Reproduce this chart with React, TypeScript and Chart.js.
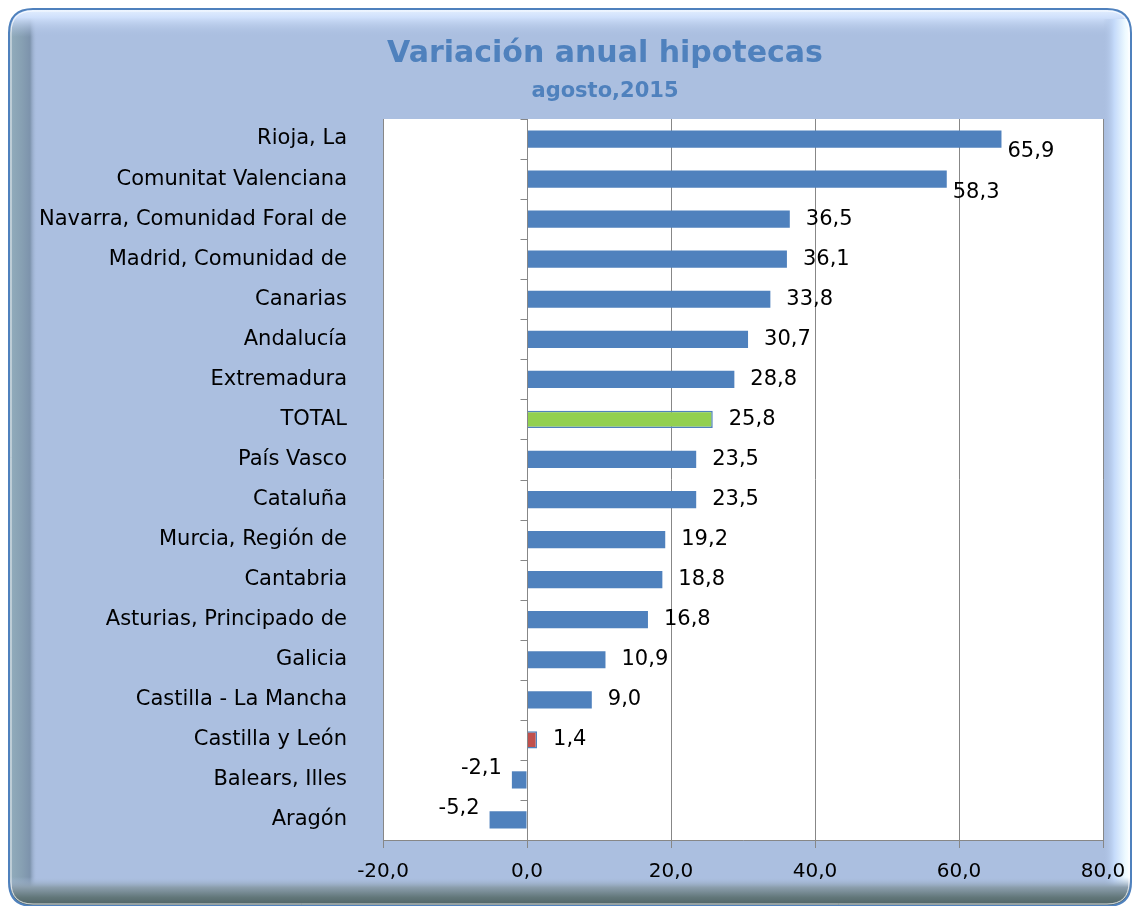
import React, { useEffect, useRef } from "react";
import { Chart, registerables } from "chart.js";

Chart.register(...registerables);

const categories = [
  "Rioja, La",
  "Comunitat Valenciana",
  "Navarra, Comunidad Foral de",
  "Madrid, Comunidad de",
  "Canarias",
  "Andalucía",
  "Extremadura",
  "TOTAL",
  "País Vasco",
  "Cataluña",
  "Murcia, Región de",
  "Cantabria",
  "Asturias, Principado de",
  "Galicia",
  "Castilla - La Mancha",
  "Castilla y León",
  "Balears, Illes",
  "Aragón",
];

const values = [65.9, 58.3, 36.5, 36.1, 33.8, 30.7, 28.8, 25.8, 23.5, 23.5, 19.2, 18.8, 16.8, 10.9, 9.0, 1.4, -2.1, -5.2];

const xTicks = [-20, 0, 20, 40, 60, 80];

const TITLE = "Variación anual hipotecas";
const SUBTITLE = "agosto,2015";

const BLUE = "#4F81BD";
const GREEN = "#92D050";
const RED = "#C0504D";
const FRAME = "#ABBFE0";
const GRID = "#878787";
const FONT = "'DejaVu Sans', sans-serif";

const fmt = (v: number) => v.toFixed(1).replace(".", ",");

function roundRect(ctx: CanvasRenderingContext2D, x: number, y: number, w: number, h: number, r: number) {
  ctx.beginPath();
  ctx.moveTo(x + r, y);
  ctx.lineTo(x + w - r, y);
  ctx.quadraticCurveTo(x + w, y, x + w, y + r);
  ctx.lineTo(x + w, y + h - r);
  ctx.quadraticCurveTo(x + w, y + h, x + w - r, y + h);
  ctx.lineTo(x + r, y + h);
  ctx.quadraticCurveTo(x, y + h, x, y + h - r);
  ctx.lineTo(x, y + r);
  ctx.quadraticCurveTo(x, y, x + r, y);
  ctx.closePath();
}

const framePlugin = {
  id: "frame",
  beforeDraw(chart: any) {
    const ctx: CanvasRenderingContext2D = chart.ctx;
    const W = chart.width;
    const H = chart.height;
    ctx.save();
    ctx.fillStyle = "#ffffff";
    ctx.fillRect(0, 0, W, H);
    const x0 = 9, y0 = 9, x1 = 1131, y1 = 906;
    roundRect(ctx, x0, y0, x1 - x0, y1 - y0, 24);
    ctx.fillStyle = FRAME;
    ctx.fill();
    ctx.save();
    roundRect(ctx, x0, y0, x1 - x0, y1 - y0, 24);
    ctx.clip();
    // left dark strip
    let g = ctx.createLinearGradient(x0, 0, x0 + 28, 0);
    g.addColorStop(0, "#93aebd");
    g.addColorStop(0.45, "#87a0b3");
    g.addColorStop(0.75, "#7d93ac");
    g.addColorStop(1, "rgba(171,191,224,0)");
    ctx.fillStyle = g;
    ctx.fillRect(x0, y0, 28, y1 - y0);
    // top highlight
    g = ctx.createLinearGradient(0, y0, 0, y0 + 28);
    g.addColorStop(0, "#e4f0ff");
    g.addColorStop(0.3, "#cfe0fb");
    g.addColorStop(1, "rgba(171,191,224,0)");
    ctx.fillStyle = g;
    ctx.fillRect(x0, y0, x1 - x0, 30);
    // right light strip
    g = ctx.createLinearGradient(x1 - 28, 0, x1, 0);
    g.addColorStop(0, "rgba(171,191,224,0)");
    g.addColorStop(0.4, "#c4dafa");
    g.addColorStop(0.8, "#eefaff");
    g.addColorStop(1, "#ffffff");
    ctx.fillStyle = g;
    ctx.fillRect(x1 - 28, y0 + 10, 28, y1 - y0 - 10);
    // bottom dark
    g = ctx.createLinearGradient(0, 877, 0, 906);
    g.addColorStop(0, "rgba(171,191,224,0)");
    g.addColorStop(0.35, "#8c9fae");
    g.addColorStop(0.7, "#62777a");
    g.addColorStop(1, "#4d6161");
    ctx.fillStyle = g;
    ctx.fillRect(x0, 877, x1 - x0, 30);
    ctx.restore();
    // inner white line
    roundRect(ctx, x0 + 2, y0 + 2, x1 - x0 - 4, y1 - y0 - 4, 22);
    ctx.strokeStyle = "rgba(255,255,255,0.8)";
    ctx.lineWidth = 1;
    ctx.stroke();
    // outer blue border
    roundRect(ctx, x0, y0, x1 - x0, y1 - y0, 24);
    ctx.strokeStyle = "#4F81BD";
    ctx.lineWidth = 2;
    ctx.stroke();
    // plot background
    const a = chart.chartArea;
    ctx.fillStyle = "#ffffff";
    ctx.fillRect(a.left, a.top, a.right - a.left, a.bottom - a.top);
    // title texts
    ctx.fillStyle = BLUE;
    ctx.textAlign = "center";
    ctx.textBaseline = "middle";
    ctx.font = `bold 30px ${FONT}`;
    ctx.fillText(TITLE, 605, 54);
    ctx.font = `bold 21px ${FONT}`;
    ctx.fillText(SUBTITLE, 605, 92);
    ctx.restore();
  },
};

const axisPlugin = {
  id: "zeroAxis",
  afterDatasetsDraw(chart: any) {
    const ctx: CanvasRenderingContext2D = chart.ctx;
    const a = chart.chartArea;
    const xs = chart.scales.x;
    const x0 = Math.round(xs.getPixelForValue(0)) + 0.5;
    ctx.save();
    ctx.strokeStyle = GRID;
    ctx.lineWidth = 1;
    ctx.beginPath();
    ctx.moveTo(x0, a.top);
    ctx.lineTo(x0, a.bottom);
    const n = categories.length;
    const h = (a.bottom - a.top) / n;
    for (let i = 0; i <= n; i++) {
      const y = Math.round(a.top + i * h) + 0.5;
      ctx.moveTo(x0 - 7, y);
      ctx.lineTo(x0, y);
    }
    ctx.stroke();
    // data labels
    const meta = chart.getDatasetMeta(0);
    ctx.fillStyle = "#000000";
    ctx.font = `21px ${FONT}`;
    ctx.textBaseline = "middle";
    meta.data.forEach((bar: any, i: number) => {
      const v = values[i];
      const t = fmt(v);
      if (v < 0) {
        ctx.textAlign = "right";
        ctx.fillText(t, bar.x - 10, bar.y - 11);
      } else if (v > 50) {
        ctx.textAlign = "left";
        ctx.fillText(t, bar.x + 6, bar.y + 13);
      } else {
        ctx.textAlign = "left";
        ctx.fillText(t, bar.x + 16, bar.y);
      }
    });
    ctx.restore();
  },
};

export default function App() {
  const ref = useRef<HTMLCanvasElement | null>(null);
  useEffect(() => {
    if (!ref.current) return;
    const bg = categories.map((c) => (c === "TOTAL" ? GREEN : c === "Castilla y León" ? RED : BLUE));
    const bw = categories.map((c) => (c === "TOTAL" || c === "Castilla y León" ? 1.5 : 0));
    const chart = new Chart(ref.current, {
      type: "bar",
      data: {
        labels: categories,
        datasets: [
          {
            data: values,
            backgroundColor: bg,
            borderColor: BLUE,
            borderWidth: bw,
            barPercentage: 0.43,
            categoryPercentage: 1,
          },
        ],
      },
      options: {
        indexAxis: "y",
        responsive: false,
        animation: false,
        layout: { padding: { left: 0, right: 32, top: 119, bottom: 26 } },
        plugins: {
          legend: { display: false },
          tooltip: { enabled: false },
          title: { display: false },
        },
        scales: {
          x: {
            min: -20,
            max: 80,
            afterBuildTicks: (s: any) => {
              s.ticks = xTicks.map((v) => ({ value: v }));
            },
            afterFit: (s: any) => {
              s.height = 40;
              s.paddingLeft = 0;
              s.paddingRight = 0;
            },
            ticks: {
              callback: (v: any) => fmt(Number(v)),
              color: "#000000",
              font: { family: FONT, size: 20 },
              padding: 12,
            },
            grid: { color: GRID, tickLength: 8, lineWidth: 1 },
            border: { color: GRID },
          },
          y: {
            afterFit: (s: any) => {
              s.width = 383;
            },
            ticks: {
              color: "#000000",
              font: { family: FONT, size: 21 },
              padding: 28,
              autoSkip: false,
            },
            grid: { display: false },
            border: { display: false },
          },
        },
      },
      plugins: [framePlugin, axisPlugin],
    });
    return () => chart.destroy();
  }, []);
  return (
    <div style={{ position: "absolute", left: 0, top: 0, width: 1135, height: 906 }}>
      <canvas ref={ref} width={1135} height={906} style={{ display: "block" }} />
    </div>
  );
}
